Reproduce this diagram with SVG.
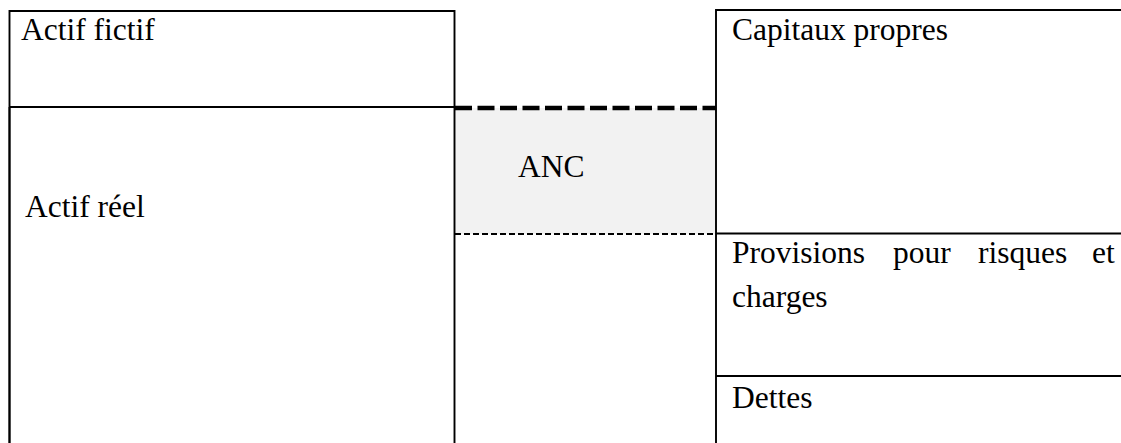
<svg xmlns="http://www.w3.org/2000/svg" width="1121" height="443" viewBox="0 0 1121 443">
<style>
.ln{stroke:#000;stroke-width:1.9;fill:none}
.t{font-family:'Liberation Serif','Times New Roman',serif;font-size:31.5px;fill:#000}
</style>
<rect width="1121" height="443" fill="#fff"/>
<g id="anc">
<rect x="454.5" y="108" width="261.5" height="126" fill="#f2f2f2"/>
<text class="t" x="518" y="177">ANC</text>
</g>
<g id="actif-fictif">
<path class="ln" d="M9.5 443V11H454.5V107H9.5"/>
<text class="t" x="21" y="40">Actif fictif</text>
</g>
<g id="actif-reel">
<path class="ln" d="M9.5 107V443M454.5 107V443"/>
<text class="t" x="25" y="217">Actif réel</text>
</g>
<g id="capitaux-propres">
<path class="ln" d="M716 443V10H1121"/>
<text class="t" x="732" y="40">Capitaux propres</text>
</g>
<g id="provisions">
<path class="ln" d="M716 233.5H1121"/>
<text class="t" y="263"><tspan x="732">Provisions</tspan><tspan x="893">pour</tspan><tspan x="978">risques</tspan><tspan x="1092">et</tspan></text>
<text class="t" x="732" y="306.5">charges</text>
</g>
<g id="dettes">
<path class="ln" d="M716 376H1121"/>
<text class="t" x="732" y="408">Dettes</text>
</g>
<g id="connectors">
<path d="M455 108H716" stroke="#000" stroke-width="4.5" stroke-dasharray="17 5.5" fill="none"/>
<path d="M455 234H716" stroke="#000" stroke-width="2" stroke-dasharray="6 3" fill="none"/>
</g>
</svg>
